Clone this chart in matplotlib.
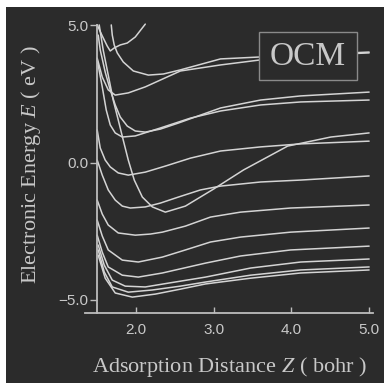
import matplotlib
matplotlib.use("Agg")
import matplotlib.pyplot as plt
from matplotlib.patches import Rectangle

# ---------------- data ----------------
# adsorption distance Z (bohr) and electronic energy E (eV) for each curve
x_z = [1.50, 1.565, 1.629, 1.668, 1.719, 1.797, 1.887, 1.990, 2.119]
x_e = [5.02, 4.62, 4.25, 4.07, 4.18, 4.29, 4.36, 4.58, 5.05]

y_z = [1.681, 1.694, 1.719, 1.758, 1.835, 1.965, 2.158, 2.352, 2.571, 3.087, 3.590, 4.119, 5.0]
y_e = [5.02, 4.65, 4.29, 4.00, 3.67, 3.34, 3.19, 3.23, 3.38, 3.78, 3.85, 3.92, 4.03]

c3_z = [1.50, 1.565, 1.642, 1.732, 1.900, 2.119, 2.571, 3.087, 3.590, 4.119, 5.0]
c3_e = [3.81, 3.12, 2.65, 2.46, 2.54, 2.76, 3.34, 3.56, 3.74, 3.89, 4.00]

c4_z = [1.513, 1.539, 1.603, 1.668, 1.732, 1.797, 1.887, 1.990, 2.119, 2.313, 2.545, 2.829, 3.087, 3.603, 4.119, 5.0]
c4_e = [4.65, 4.11, 3.30, 2.65, 2.10, 1.66, 1.33, 1.15, 1.11, 1.22, 1.44, 1.73, 1.99, 2.28, 2.43, 2.57]

c5_z = [1.50, 1.565, 1.616, 1.668, 1.732, 1.823, 1.990, 2.313, 2.700, 3.087, 3.603, 4.119, 5.0]
c5_e = [3.74, 2.76, 1.92, 1.37, 1.08, 0.93, 0.97, 1.26, 1.62, 1.88, 2.10, 2.21, 2.28]

diag_z = [1.526, 1.577, 1.642, 1.706, 1.771, 1.835, 1.900, 1.977, 2.081, 2.210, 2.377, 2.635, 2.997, 3.384, 3.952, 4.506, 5.0]
diag_e = [5.02, 4.11, 3.19, 2.28, 1.55, 0.82, 0.09, -0.64, -1.26, -1.62, -1.81, -1.59, -0.97, -0.27, 0.60, 0.93, 1.08]

c6_z = [1.50, 1.539, 1.603, 1.668, 1.771, 1.900, 2.119, 2.377, 2.700, 3.087, 3.603, 4.119, 5.0]
c6_e = [1.19, 0.53, 0.09, -0.16, -0.38, -0.46, -0.35, -0.13, 0.16, 0.42, 0.57, 0.68, 0.78]

c7_z = [1.50, 1.565, 1.642, 1.732, 1.823, 1.926, 2.119, 2.313, 2.545, 2.829, 3.087, 3.603, 4.119, 5.0]
c7_e = [0.09, -0.46, -1.00, -1.37, -1.59, -1.66, -1.62, -1.48, -1.26, -1.00, -0.86, -0.71, -0.64, -0.49]

c8_z = [1.50, 1.565, 1.642, 1.771, 1.990, 2.184, 2.339, 2.635, 2.958, 3.345, 3.990, 5.0]
c8_e = [-1.37, -1.88, -2.28, -2.57, -2.65, -2.61, -2.54, -2.32, -1.99, -1.81, -1.66, -1.55]

c9_z = [1.50, 1.565, 1.642, 1.823, 2.029, 2.339, 2.635, 2.958, 3.345, 3.990, 5.0]
c9_e = [-2.10, -2.68, -3.19, -3.56, -3.63, -3.45, -3.19, -2.90, -2.72, -2.54, -2.39]

c10_z = [1.50, 1.565, 1.642, 1.823, 2.029, 2.339, 2.894, 3.345, 3.990, 5.0]
c10_e = [-2.65, -3.27, -3.81, -4.11, -4.18, -4.03, -3.67, -3.41, -3.19, -3.05]

c11_z = [1.513, 1.590, 1.694, 1.861, 2.119, 2.416, 2.894, 3.474, 4.119, 5.0]
c11_e = [-3.01, -3.74, -4.29, -4.51, -4.54, -4.40, -4.18, -3.85, -3.63, -3.52]

c12_z = [1.513, 1.590, 1.694, 1.900, 2.210, 2.571, 2.894, 3.474, 4.119, 5.0]
c12_e = [-3.19, -3.99, -4.54, -4.73, -4.65, -4.51, -4.36, -4.11, -3.92, -3.81]

c13_z = [1.513, 1.603, 1.732, 1.952, 2.248, 2.571, 2.894, 3.474, 4.119, 5.0]
c13_e = [-3.38, -4.22, -4.76, -4.91, -4.80, -4.62, -4.43, -4.22, -4.03, -3.92]

curves = [(x_z, x_e), (y_z, y_e), (c3_z, c3_e), (c4_z, c4_e), (c5_z, c5_e),
          (diag_z, diag_e), (c6_z, c6_e), (c7_z, c7_e), (c8_z, c8_e),
          (c9_z, c9_e), (c10_z, c10_e), (c11_z, c11_e), (c12_z, c12_e),
          (c13_z, c13_e)]

x_ticks = [2.0, 3.0, 4.0, 5.0]
x_ticklabels = ["2.0", "3.0", "4.0", "5.0"]
y_ticks = [-5.0, 0.0, 5.0]
y_ticklabels = ["\u22125.0", "0.0", "5.0"]

# ---------------- style ----------------
BG = "#2b2b2b"
FG = "#c8c8c8"
LINE = "#d4d4d4"
plt.rcParams['mathtext.fontset'] = 'custom'
plt.rcParams['mathtext.rm'] = 'Liberation Serif'
plt.rcParams['mathtext.it'] = 'Liberation Serif:italic'

W, H = 384, 383
fig = plt.figure(figsize=(W / 100, H / 100), dpi=100)
fig.patch.set_facecolor("white")
fig.patches.append(Rectangle((6 / W, 0), 1 - 6 / W, 1 - 7 / H,
                             transform=fig.transFigure, facecolor=BG,
                             edgecolor="none", zorder=-10))

ax = fig.add_axes([85 / W, 70 / H, 288 / W, 293 / H])
ax.set_zorder(1)
ax.set_facecolor("none")
ax.set_xlim(1.343, 5.05)
ax.set_ylim(-5.49, 5.20)

for z, e in curves:
    ax.plot(z, e, color=LINE, lw=1.1, solid_capstyle="round", zorder=2)

# axes
for s in ("top", "right"):
    ax.spines[s].set_visible(False)
ax.spines["left"].set_position(("data", 1.5))
ax.spines["left"].set_bounds(-5.49, 5.0)
for s in ("left", "bottom"):
    ax.spines[s].set_color("#bdbdbd")
    ax.spines[s].set_linewidth(1.3)

ax.set_xticks(x_ticks)
ax.set_xticklabels(x_ticklabels)
ax.set_yticks(y_ticks)
ax.set_yticklabels(y_ticklabels)
ax.tick_params(axis="x", direction="in", length=4.5, width=1.0, color="#bdbdbd",
               pad=7, labelsize=11, labelcolor=FG)
ax.tick_params(axis="y", direction="out", length=5, width=1.0, color="#bdbdbd",
               pad=1.5, labelsize=11, labelcolor=FG)
for lab in ax.get_xticklabels() + ax.get_yticklabels():
    lab.set_fontfamily("Liberation Sans")

# OCM box
ax.add_patch(Rectangle((3.583, 3.01), 1.262, 1.75, facecolor=BG,
                       edgecolor="#8a8a8a", lw=1.0, zorder=3))
ax.text(4.214, 3.87, "OCM", fontsize=24, family="Liberation Serif",
        color=FG, ha="center", va="center", zorder=4)

# axis labels
fig.text(229 / W, (H - 372) / H, "Adsorption Distance $Z$ ( bohr )",
         fontsize=16, family="Liberation Serif", color=FG,
         ha="center", va="baseline")
fig.text(31 / W, (H - 165) / H, "Electronic Energy $E$ ( eV )",
         fontsize=16, family="Liberation Serif", color=FG,
         ha="center", va="center", rotation=90)

fig.savefig("out.png", dpi=100, facecolor=fig.get_facecolor())
